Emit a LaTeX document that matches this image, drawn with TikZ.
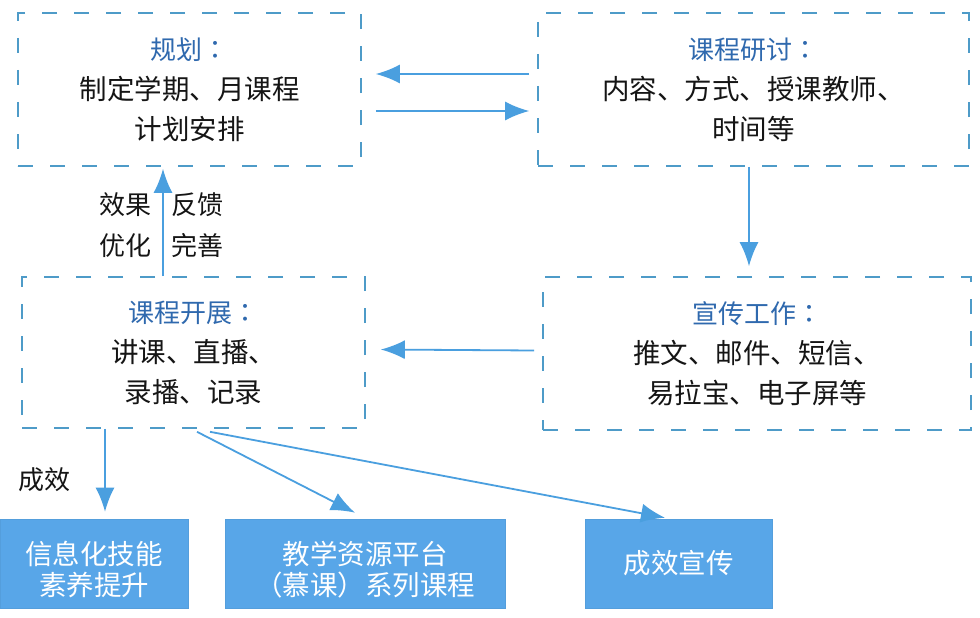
\documentclass[tikz,border=0pt]{standalone}
\usepackage{fontspec}
\setmainfont{Noto Sans CJK SC}
\newfontfamily\tcfont{Noto Sans CJK TC}
\usetikzlibrary{arrows.meta}
\definecolor{dashblue}{HTML}{4E9BC8}
\definecolor{arrblue}{HTML}{4A9FDF}
\definecolor{titleblue}{HTML}{2F69AE}
\definecolor{fillblue}{HTML}{58A6E8}
\definecolor{txt}{HTML}{151515}
\tikzset{
  dbox/.style={draw=dashblue, line width=1.6pt, dash pattern=on 15pt off 17pt, inner sep=0pt, align=center,
    text=txt, font=\fontsize{27.5}{40}\selectfont},
  fbox/.style={draw=fillblue!95!black, fill=fillblue, line width=0.6pt, inner sep=0pt},
  ftext/.style={inner sep=0pt, align=center, text=white, font=\fontsize{27.5}{31}\selectfont},
  arr/.style={draw=arrblue, line width=1.8pt, -{Latex[length=24pt,width=19pt]}},
  lbl/.style={inner sep=0pt, text=txt, font=\fontsize{26}{30}\selectfont}
}
\newcommand{\ttlx}[1]{{\fontsize{26}{40}\selectfont\color{titleblue}#1{\tcfont ：}}}
\begin{document}
\begin{tikzpicture}[x=1pt,y=-1pt]
\useasboundingbox (0,0) rectangle (980,618);
\fill[white] (0,0) rectangle (980,618);
\node[dbox, minimum width=343pt, minimum height=153pt] (b1) at (189.5,89.5)
  {\ttlx{规划}\\制定学期、月课程\\计划安排};
\node[dbox, minimum width=431pt, minimum height=153pt] (b2) at (753.5,89.5)
  {\ttlx{课程研讨}\\内容、方式、授课教师、\\时间等};
\node[dbox, minimum width=343pt, minimum height=151pt] (b3) at (193.5,352.5)
  {\ttlx{课程开展}\\讲课、直播、\\录播、记录};
\node[dbox, minimum width=428pt, minimum height=153pt] (b4) at (757,353.5)
  {\ttlx{宣传工作}\\推文、邮件、短信、\\易拉宝、电子屏等};
\node[fbox, minimum width=188pt, minimum height=89pt] (ba) at (94,563.5) {};
\node[fbox, minimum width=280pt, minimum height=89pt] (bb) at (365,563.5) {};
\node[fbox, minimum width=187pt, minimum height=89pt] (bc) at (678.5,563.5) {};
\node[ftext] (ta) at ([yshift=-6pt]ba.center) {信息化技能\\素养提升};
\node[ftext] (tb) at ([yshift=-6pt]bb.center) {教学资源平台\\（慕课）系列课程};
\node[ftext] (tc) at (bc.center) {成效宣传};

\node[lbl] (l1) at (125,205) {效果};
\node[lbl] (l2) at (197,205) {反馈};
\node[lbl] (l3) at (125,246) {优化};
\node[lbl] (l4) at (197,246) {完善};
\node[lbl] (l5) at (45,480) {成效};

\draw[arr] ([xshift=-8pt,yshift=15.5pt]b2.west) -- ([xshift=14pt,yshift=15.5pt]b1.east);
\draw[arr] ([xshift=14pt,yshift=-21.5pt]b1.east) -- ([xshift=-8pt,yshift=-21.5pt]b2.west);
\draw[arr] ([xshift=-4.5pt]b2.south) -- ([xshift=-4.5pt,yshift=10pt]b4.north -| b2.south);
\draw[arr] ([xshift=-8pt,yshift=3pt]b4.west) -- ([xshift=15pt,yshift=3pt]b3.east);
\draw[arr] ([xshift=-30.5pt]b3.north) -- ([xshift=-26.5pt,yshift=-2pt]b1.south);
\draw[arr] ([xshift=-88.5pt]b3.south) -- ([xshift=11pt,yshift=7pt]ba.north);
\draw[arr] ([xshift=3.5pt,yshift=-3pt]b3.south) -- ([xshift=-10pt,yshift=6pt]bb.north);
\draw[arr] ([xshift=16.5pt,yshift=-3pt]b3.south) -- ([xshift=-13.5pt,yshift=1pt]bc.north);
\end{tikzpicture}
\end{document}
